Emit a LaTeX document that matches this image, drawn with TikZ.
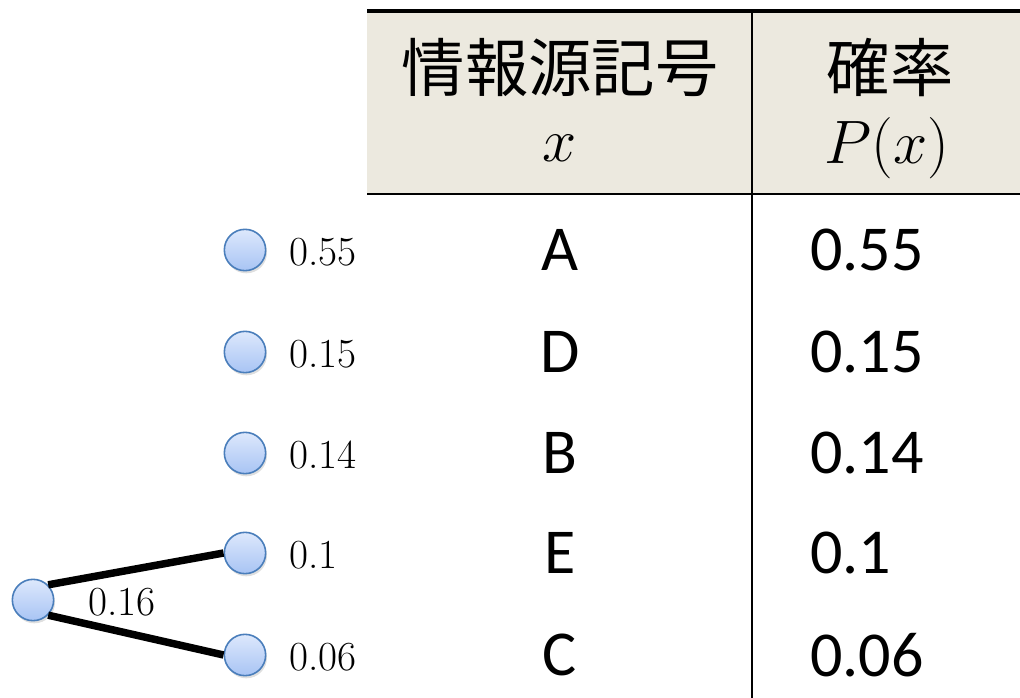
\RequirePackage{fix-cm}
\documentclass[tikz,border=0pt]{standalone}
\usepackage{fontspec}
\newfontfamily\jafont{Noto Sans CJK JP}
\newfontfamily\tabfont{Carlito}
\usetikzlibrary{shadows}
\definecolor{headbg}{HTML}{ECE9DF}
\definecolor{ballline}{HTML}{4A7EBB}
\definecolor{balltop}{HTML}{DDE8FC}
\definecolor{ballbot}{HTML}{A8C4F4}
\begin{document}
\begin{tikzpicture}[
    x=0.75pt, y=-0.75pt,
    ball/.style={circle, draw=ballline, line width=1.2pt, minimum size=31pt,
                 inner sep=0pt, top color=balltop, bottom color=ballbot,
                 drop shadow={opacity=0.25, shadow xshift=1pt, shadow yshift=-2pt}},
    val/.style={font=\fontsize{31}{34}\selectfont, anchor=west, inner sep=0pt},
    head/.style={font=\jafont\fontsize{47.5}{56}\selectfont},
    headm/.style={font=\fontsize{46}{52}\selectfont},
    cell/.style={font=\tabfont\fontsize{48}{54}\selectfont},
    edge/.style={line width=5.6pt}
  ]
  \useasboundingbox (0,0) rectangle (1020,698);

  % Table
  \fill[headbg] (367,11) rectangle (1020,194);
  \draw[line width=3pt] (367,11) -- (1020,11);
  \draw[line width=1.5pt] (367,194) -- (1020,194);
  \draw[line width=1.5pt] (752,11) -- (752,698);

  \node[head] (hsym) at (560,68) {情報源記号};
  \node[headm] (hsymx) at (560,148) {$x$};
  \node[head] (hprob) at (890,68) {確率};
  \node[headm] (hprobx) at (887,148) {$P(x)$};

  \node[cell] (sa) at (560,250) {A};
  \node[cell] (sd) at (560,352) {D};
  \node[cell] (sb) at (560,453) {B};
  \node[cell] (se) at (560,553) {E};
  \node[cell] (sc) at (560,655) {C};

  \node[cell, anchor=west, inner sep=0pt] (pa) at (810,250) {0.55};
  \node[cell, anchor=west, inner sep=0pt] (pd) at (810,352) {0.15};
  \node[cell, anchor=west, inner sep=0pt] (pb) at (810,453) {0.14};
  \node[cell, anchor=west, inner sep=0pt] (pe) at (810,553) {0.1};
  \node[cell, anchor=west, inner sep=0pt] (pc) at (810,655) {0.06};

  % Tree
  \node[ball] (na) at (245,250) {};
  \node[ball] (nd) at (245,352) {};
  \node[ball] (nb) at (245,453) {};
  \node[ball] (ne) at (245,553) {};
  \node[ball] (nc) at (245,655) {};
  \node[ball] (nec) at (33,600) {};

  \node[val] at (289,252) {0.55};
  \node[val] at (289,354) {0.15};
  \node[val] at (289,455) {0.14};
  \node[val] at (289,555) {0.1};
  \node[val] at (289,657) {0.06};

  \draw[edge] (nec.north east) -- (ne.west);
  \draw[edge] (nec.south east) -- (nc.west);
  \node[val] at (88,602) {0.16};
\end{tikzpicture}
\end{document}
